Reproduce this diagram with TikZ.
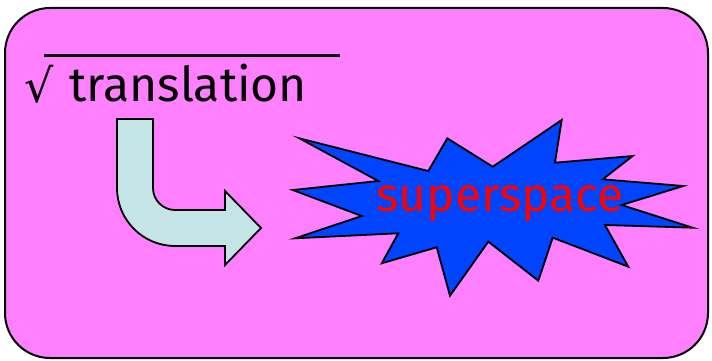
\documentclass[tikz,border=0pt]{standalone}
\usepackage{fontspec}
\setmainfont{Fira Sans}
\newfontfamily\symfont{DejaVu Sans}
\definecolor{bgpink}{RGB}{255,128,255}
\definecolor{arrowfill}{RGB}{197,228,230}
\definecolor{burstblue}{RGB}{0,68,255}
\begin{document}
\begin{tikzpicture}[x=1pt,y=-1pt,
  outline/.style={draw=black,line width=1.8pt,line join=miter},
  bigtext/.style={font=\fontsize{48}{48}\selectfont,inner sep=0pt,anchor=base west}]
\useasboundingbox (0,0) rectangle (712,361);
% panel
\draw[line width=2pt,fill=bgpink,rounded corners=45pt] (5,8) rectangle (708,358);
% sqrt translation
\node[font=\symfont\fontsize{46}{46}\selectfont,inner sep=0pt,anchor=base west] (sq) at (24,102) {√};
\node[bigtext] (tr) at (69,101) {translation};
\coordinate (barL) at (44,55.5);
\coordinate (barR) at (340,55.5);
\draw[line width=3pt] (barL) -- (barR);
% bent arrow
\draw[outline,fill=arrowfill] (117,119) -- (153,119) -- (153,188)
  .. controls (153,200.1) and (162.9,210) .. (175,210)
  -- (225,210) -- (225,191) -- (261,228) -- (225,265) -- (225,246) -- (175,246)
  .. controls (143,246) and (117,220) .. (117,188) -- cycle;
% starburst
\draw[outline,fill=burstblue] (299.3,138.3) -- (428.3,171) -- (447.3,138.3) -- (492.7,166.7)
  -- (561.7,120) -- (555,162.7) -- (632.7,156) -- (602.7,179.3) -- (683.3,186)
  -- (621.7,205) -- (692.7,227.7) -- (605,225) -- (628.3,266.7) -- (552.7,237.7)
  -- (538.3,280.7) -- (488.3,241.7) -- (450,295.7) -- (436.7,247.3) -- (381.7,263.3)
  -- (398.3,233.3) -- (295,238.3) -- (361.7,216) -- (292.7,190) -- (378.3,181) -- cycle;
\node[font=\fontsize{48}{48}\selectfont,text=red,inner sep=0pt,anchor=base] (sup) at (500,211) {superspace};
\end{tikzpicture}
\end{document}
